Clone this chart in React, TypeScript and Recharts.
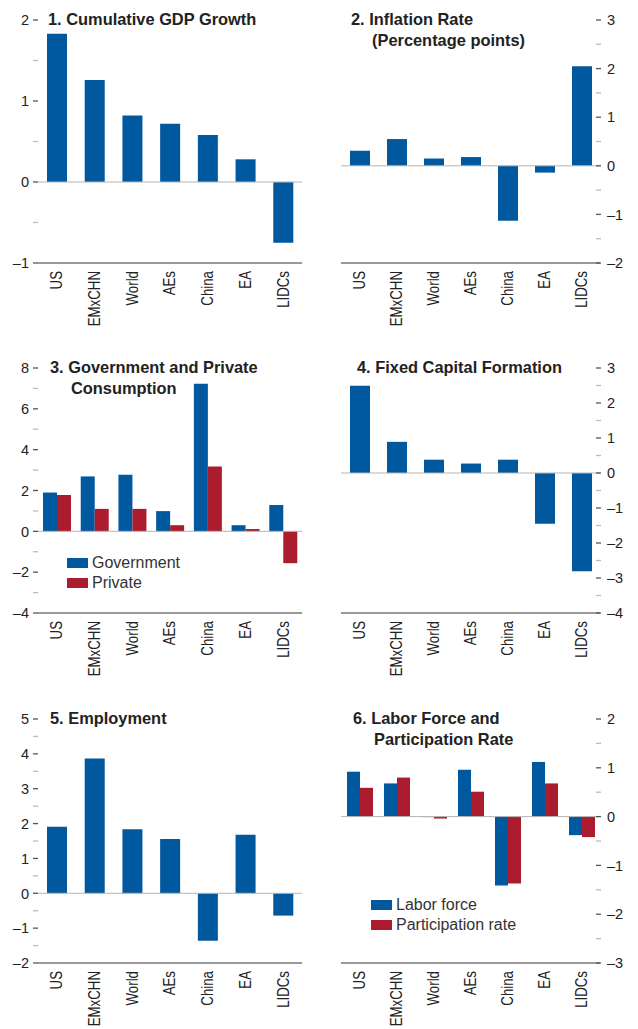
import React from "react";
import { Bar, BarChart, ReferenceLine, XAxis, YAxis } from "recharts";

const categories = ["US", "EMxCHN", "World", "AEs", "China", "EA", "LIDCs"];

const gdpGrowth = [1.83, 1.26, 0.82, 0.72, 0.58, 0.28, -0.75];
const inflation = [0.31, 0.55, 0.15, 0.18, -1.13, -0.14, 2.05];
const govConsumption = [1.9, 2.69, 2.77, 0.99, 7.23, 0.3, 1.29];
const privConsumption = [1.78, 1.1, 1.1, 0.3, 3.17, 0.12, -1.56];
const fixedCapital = [2.49, 0.89, 0.38, 0.27, 0.38, -1.45, -2.81];
const employment = [1.91, 3.87, 1.84, 1.56, -1.36, 1.68, -0.64];
const laborForce = [0.92, 0.68, -0.01, 0.96, -1.41, 1.12, -0.38];
const participation = [0.59, 0.8, -0.04, 0.51, -1.37, 0.68, -0.42];

const gdpTicks = [-1, -0.5, 0, 0.5, 1, 1.5, 2];
const inflationTicks = [-2, -1.5, -1, -0.5, 0, 0.5, 1, 1.5, 2, 2.5, 3];
const consumptionTicks = [-4, -3, -2, -1, 0, 1, 2, 3, 4, 5, 6, 7, 8];
const consumptionMajor = [-4, -2, 0, 2, 4, 6, 8];
const capitalTicks = [-4, -3.5, -3, -2.5, -2, -1.5, -1, -0.5, 0, 0.5, 1, 1.5, 2, 2.5, 3];
const employmentTicks = [-2, -1.5, -1, -0.5, 0, 0.5, 1, 1.5, 2, 2.5, 3, 3.5, 4, 4.5, 5];
const laborTicks = [-3, -2.5, -2, -1.5, -1, -0.5, 0, 0.5, 1, 1.5, 2];

const BLUE = "#00589f";
const RED = "#ab1c2f";
const FONT = "'Liberation Sans', Arial, sans-serif";

type Series = { key: string; name: string; color: string; values: number[] };

type PanelProps = {
  left: number;
  top: number;
  height: number;
  marginTop: number;
  plotHeight: number;
  side: "left" | "right";
  title: string[];
  titleX: number;
  series: Series[];
  domain: [number, number];
  ticks: number[];
  majors?: number[];
  barSize: number;
  legend?: { x: number; y: number };
};

const WIDTH = 319;

function fmt(v: number) {
  return v < 0 ? "\u2013" + Math.abs(v) : String(v);
}

function YTick(props: any) {
  const { x, y, payload, side, labeled, majors } = props;
  const v = payload.value as number;
  const major = majors ? majors.includes(v) : Number.isInteger(v);
  return (
    <g>
      <line
        x1={side === "left" ? x - 5 : x - 4}
        x2={side === "left" ? x : x + 1}
        y1={y}
        y2={y}
        stroke={major ? "#555" : "#bbb"}
        strokeWidth={1.3}
      />
      {labeled && major ? (
        <text
          x={side === "left" ? x - 9 : x + 7}
          y={y}
          dy="0.36em"
          textAnchor={side === "left" ? "end" : "start"}
          fontSize={14.5}
          fontFamily={FONT}
          fill="#222"
        >
          {fmt(v)}
        </text>
      ) : null}
    </g>
  );
}

// rotated category label, squeezed a little to look like the condensed face
function XTick(props: any) {
  const { x, y, payload } = props;
  return (
    <text
      x={0}
      y={0}
      transform={`translate(${x}, ${y + 8}) rotate(-90) scale(0.83, 1)`}
      textAnchor="end"
      dominantBaseline="central"
      fontSize={16}
      fontFamily={FONT}
      fill="#222"
    >
      {payload.value}
    </text>
  );
}

function LegendBox({ series, x, y }: { series: Series[]; x: number; y: number }) {
  return (
    <div style={{ position: "absolute", left: x, top: y, fontFamily: FONT, fontSize: 16, color: "#333" }}>
      {series.map((s) => (
        <div key={s.key} style={{ display: "flex", alignItems: "center", height: 20, whiteSpace: "nowrap" }}>
          <span style={{ display: "inline-block", width: 21, height: 10, background: s.color, marginRight: 4 }} />
          {s.name}
        </div>
      ))}
    </div>
  );
}

function Panel(p: PanelProps) {
  const data = categories.map((c, i) => {
    const row: Record<string, string | number> = { name: c };
    p.series.forEach((s) => {
      row[s.key] = s.values[i];
    });
    return row;
  });
  const labelW = 38;
  const plainW = p.side === "left" ? 17 : 22;
  const xAxisHeight = p.height - p.marginTop - p.plotHeight;
  const baseline = p.marginTop + 5;

  return (
    <div style={{ position: "absolute", left: p.left, top: p.top, width: WIDTH, height: p.height }}>
      <BarChart
        width={WIDTH}
        height={p.height}
        data={data}
        margin={{ top: p.marginTop, right: 0, left: 0, bottom: 0 }}
        barGap={0}
        barSize={p.barSize}
        style={{ overflow: "visible" }}
      >
        <XAxis
          dataKey="name"
          interval={0}
          height={xAxisHeight}
          tickLine={false}
          tickSize={0}
          tickMargin={0}
          axisLine={{ stroke: "#9a9a9a", strokeWidth: 2 }}
          tick={<XTick />}
        />
        <YAxis
          yAxisId="main"
          orientation={p.side}
          width={labelW}
          domain={p.domain}
          ticks={p.ticks}
          interval={0}
          axisLine={false}
          tickLine={false}
          tickSize={0}
          tickMargin={0}
          tick={<YTick side={p.side} labeled majors={p.majors} />}
        />
        <YAxis
          yAxisId="other"
          orientation={p.side === "left" ? "right" : "left"}
          width={plainW}
          domain={p.domain}
          ticks={p.ticks}
          interval={0}
          axisLine={false}
          tickLine={false}
          tickSize={0}
          tickMargin={0}
          tick={<YTick side={p.side === "left" ? "right" : "left"} majors={p.majors} />}
        />
        <ReferenceLine yAxisId="main" y={0} stroke="#b5b5b5" strokeWidth={1} />
        {p.series.map((s) => (
          <Bar key={s.key} yAxisId="main" dataKey={s.key} name={s.name} fill={s.color} isAnimationActive={false} />
        ))}
      </BarChart>
      {p.legend ? <LegendBox series={p.series} x={p.legend.x} y={p.legend.y} /> : null}
      <div
        style={{
          position: "absolute",
          left: p.titleX,
          top: baseline - 15.8,
          fontFamily: FONT,
          fontWeight: "bold",
          fontSize: 16.4,
          lineHeight: "21px",
          color: "#222",
          whiteSpace: "nowrap",
          pointerEvents: "none",
        }}
      >
        {p.title.map((t, i) => (
          <div key={i} style={{ paddingLeft: i > 0 ? 21 : 0 }}>
            {t}
          </div>
        ))}
      </div>
    </div>
  );
}

export default function App() {
  return (
    <div style={{ position: "absolute", left: 0, top: 0, width: 638, height: 1029, background: "#fff" }}>
      <Panel
        left={0}
        top={0}
        height={345}
        marginTop={20}
        plotHeight={243}
        side="left"
        title={["1. Cumulative GDP Growth"]}
        titleX={48}
        series={[{ key: "gdp", name: "GDP", color: BLUE, values: gdpGrowth }]}
        domain={[-1, 2]}
        ticks={gdpTicks}
        barSize={20}
      />
      <Panel
        left={319}
        top={0}
        height={345}
        marginTop={20}
        plotHeight={243}
        side="right"
        title={["2. Inflation Rate", "(Percentage points)"]}
        titleX={32}
        series={[{ key: "infl", name: "Inflation", color: BLUE, values: inflation }]}
        domain={[-2, 3]}
        ticks={inflationTicks}
        barSize={20}
      />
      <Panel
        left={0}
        top={345}
        height={350}
        marginTop={23}
        plotHeight={245}
        side="left"
        title={["3. Government and Private", "Consumption"]}
        titleX={50}
        series={[
          { key: "gov", name: "Government", color: BLUE, values: govConsumption },
          { key: "priv", name: "Private", color: RED, values: privConsumption },
        ]}
        domain={[-4, 8]}
        ticks={consumptionTicks}
        majors={consumptionMajor}
        barSize={14}
        legend={{ x: 67, y: 208 }}
      />
      <Panel
        left={319}
        top={345}
        height={350}
        marginTop={23}
        plotHeight={245}
        side="right"
        title={["4. Fixed Capital Formation"]}
        titleX={38}
        series={[{ key: "fcf", name: "Fixed capital", color: BLUE, values: fixedCapital }]}
        domain={[-4, 3]}
        ticks={capitalTicks}
        barSize={20}
      />
      <Panel
        left={0}
        top={695}
        height={334}
        marginTop={24}
        plotHeight={244}
        side="left"
        title={["5. Employment"]}
        titleX={50}
        series={[{ key: "emp", name: "Employment", color: BLUE, values: employment }]}
        domain={[-2, 5]}
        ticks={employmentTicks}
        barSize={20}
      />
      <Panel
        left={319}
        top={695}
        height={334}
        marginTop={24}
        plotHeight={244}
        side="right"
        title={["6. Labor Force and", "Participation Rate"]}
        titleX={34}
        series={[
          { key: "lab", name: "Labor force", color: BLUE, values: laborForce },
          { key: "part", name: "Participation rate", color: RED, values: participation },
        ]}
        domain={[-3, 2]}
        ticks={laborTicks}
        barSize={13}
        legend={{ x: 52, y: 200 }}
      />
    </div>
  );
}
